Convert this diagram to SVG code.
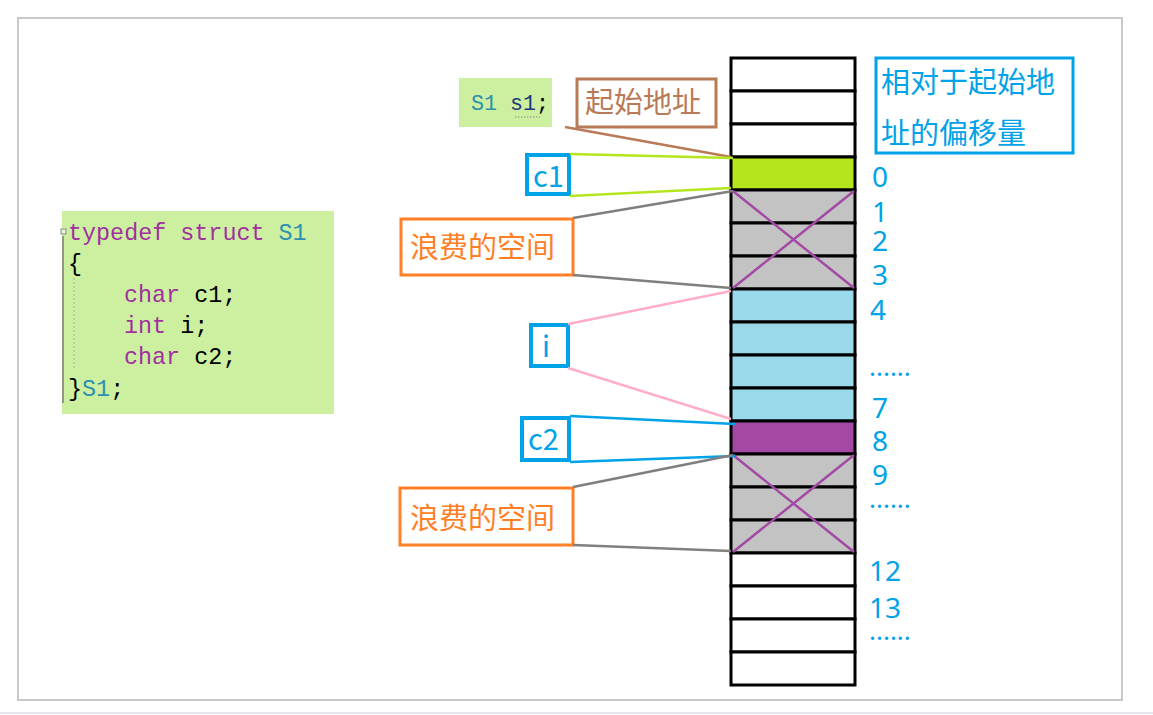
<svg xmlns="http://www.w3.org/2000/svg" width="1153" height="715" viewBox="0 0 1153 715">
<style>
.cell{stroke:#000;stroke-width:3}
.w{fill:#fff}.g{fill:#c3c3c3}.b{fill:#99d9ea}
.cjk{font-family:"Noto Sans CJK SC","Noto Sans",sans-serif;font-size:29px}
.num{font-family:"Noto Sans","Noto Sans CJK SC",sans-serif;font-size:28px;fill:#00a2e8}
.code{font-family:"Liberation Mono","DejaVu Sans Mono",monospace;font-size:23.4px}
.kw{fill:#a0309f}.ty{fill:#2b91af}.tx{fill:#000}
</style>
<rect x="0" y="0" width="1153" height="715" fill="#fff"/>
<rect x="18" y="18" width="1104" height="682" fill="none" stroke="#c8c8c8" stroke-width="2"/>
<line x1="0" y1="713" x2="1153" y2="713" stroke="#e4e8ec" stroke-width="2"/>

<g id="memory">
<rect class="cell w" x="731" y="58" width="124" height="33"/>
<rect class="cell w" x="731" y="91" width="124" height="33"/>
<rect class="cell w" x="731" y="124" width="124" height="33"/>
<rect class="cell" fill="#b5e61d" x="731" y="157" width="124" height="33"/>
<rect class="cell g" x="731" y="190" width="124" height="33"/>
<rect class="cell g" x="731" y="223" width="124" height="33"/>
<rect class="cell g" x="731" y="256" width="124" height="33"/>
<rect class="cell b" x="731" y="289" width="124" height="33"/>
<rect class="cell b" x="731" y="322" width="124" height="33"/>
<rect class="cell b" x="731" y="355" width="124" height="33"/>
<rect class="cell b" x="731" y="388" width="124" height="33"/>
<rect class="cell" fill="#a349a4" x="731" y="421" width="124" height="33"/>
<rect class="cell g" x="731" y="454" width="124" height="33"/>
<rect class="cell g" x="731" y="487" width="124" height="33"/>
<rect class="cell g" x="731" y="520" width="124" height="33"/>
<rect class="cell w" x="731" y="553" width="124" height="33"/>
<rect class="cell w" x="731" y="586" width="124" height="33"/>
<rect class="cell w" x="731" y="619" width="124" height="33"/>
<rect class="cell w" x="731" y="652" width="124" height="33"/>
<g stroke="#a349a4" stroke-width="2.5">
<line x1="733" y1="191" x2="854" y2="288"/>
<line x1="854" y1="191" x2="733" y2="288"/>
<line x1="733" y1="455" x2="854" y2="552"/>
<line x1="854" y1="455" x2="733" y2="552"/>
</g>
</g>

<g id="offsets">
<text class="num" x="872" y="187">0</text>
<text class="num" x="872" y="222">1</text>
<text class="num" x="872" y="251">2</text>
<text class="num" x="872" y="285">3</text>
<text class="num" x="870" y="320">4</text>
<text class="num" x="869" y="376" style="font-size:26px">......</text>
<text class="num" x="872" y="418">7</text>
<text class="num" x="872" y="451">8</text>
<text class="num" x="872" y="485">9</text>
<text class="num" x="869" y="508" style="font-size:26px">......</text>
<text class="num" x="869" y="581">12</text>
<text class="num" x="869" y="618">13</text>
<text class="num" x="869" y="640" style="font-size:26px">......</text>
</g>

<g id="offset-title">
<rect x="876" y="58" width="197" height="95" fill="#fff" stroke="#00a2e8" stroke-width="3"/>
<text class="cjk" x="881" y="93" fill="#00a2e8">相对于起始地</text>
<text class="cjk" x="881" y="144" fill="#00a2e8">址的偏移量</text>
</g>

<g id="code">
<rect x="62" y="211" width="272" height="203" fill="#ccf0a0"/>
<line x1="63" y1="236" x2="63" y2="403" stroke="#7a7a7a" stroke-width="1.5"/>
<rect x="61" y="229" width="5" height="5" fill="#e8f5d8" stroke="#888" stroke-width="1"/>
<line x1="74" y1="278" x2="74" y2="370" stroke="#b0b0b0" stroke-width="1" stroke-dasharray="2 2"/>
<text class="code" x="68" y="240"><tspan class="kw">typedef struct</tspan> <tspan class="ty">S1</tspan></text>
<text class="code tx" x="68" y="271">{</text>
<text class="code" x="124" y="302"><tspan class="kw">char</tspan><tspan class="tx"> c1;</tspan></text>
<text class="code" x="124" y="333"><tspan class="kw">int</tspan><tspan class="tx"> i;</tspan></text>
<text class="code" x="124" y="364"><tspan class="kw">char</tspan><tspan class="tx"> c2;</tspan></text>
<text class="code" x="68" y="396"><tspan class="tx">}</tspan><tspan class="ty">S1</tspan><tspan class="tx">;</tspan></text>
</g>

<g id="var-s1">
<rect x="459" y="78" width="93" height="49" fill="#ccf0a0"/>
<text x="471" y="110" style="font-family:'Liberation Mono','DejaVu Sans Mono',monospace;font-size:21.7px"><tspan fill="#2b91af">S1</tspan> <tspan fill="#1f377f">s1</tspan><tspan fill="#000">;</tspan></text>
<line x1="515" y1="117" x2="540" y2="117" stroke="#8a8a8a" stroke-width="1" stroke-dasharray="1.5 1.5"/>
</g>

<g id="start-addr">
<rect x="577" y="79" width="139" height="48" fill="#fff" stroke="#b97a57" stroke-width="3"/>
<text class="cjk" x="585" y="113" fill="#b97a57">起始地址</text>
</g>

<g id="c1">
<rect x="527" y="155" width="42" height="39" fill="#fff" stroke="#00a2e8" stroke-width="4"/>
<text class="cjk" x="533" y="187" fill="#00a2e8">c1</text>
</g>

<g id="waste1">
<rect x="401" y="219" width="172" height="56" fill="#fff" stroke="#ff7f27" stroke-width="3"/>
<text class="cjk" x="410" y="258" fill="#ff7f27">浪费的空间</text>
</g>

<g id="i">
<rect x="531" y="325" width="37" height="41" fill="#fff" stroke="#00a2e8" stroke-width="4"/>
<text class="cjk" x="542" y="357" fill="#00a2e8">i</text>
</g>

<g id="c2">
<rect x="522" y="418" width="47" height="42" fill="#fff" stroke="#00a2e8" stroke-width="4"/>
<text class="cjk" x="528" y="450" fill="#00a2e8">c2</text>
</g>

<g id="waste2">
<rect x="400" y="488" width="173" height="57" fill="#fff" stroke="#ff7f27" stroke-width="3"/>
<text class="cjk" x="410" y="529" fill="#ff7f27">浪费的空间</text>
</g>

<g id="connectors" stroke-width="2.5" fill="none">
<line x1="565" y1="127" x2="731" y2="157" stroke="#b97a57"/>
<line x1="570" y1="154" x2="733" y2="158" stroke="#b5e61d"/>
<line x1="570" y1="196" x2="731" y2="188" stroke="#b5e61d"/>
<line x1="573" y1="218" x2="733" y2="191" stroke="#7f7f7f"/>
<line x1="573" y1="275" x2="731" y2="288" stroke="#7f7f7f"/>
<line x1="568" y1="324" x2="731" y2="291" stroke="#ffaec9"/>
<line x1="568" y1="368" x2="731" y2="419" stroke="#ffaec9"/>
<line x1="570" y1="416" x2="735" y2="424" stroke="#00a2e8"/>
<line x1="570" y1="462" x2="735" y2="456" stroke="#00a2e8"/>
<line x1="573" y1="487" x2="733" y2="455" stroke="#7f7f7f"/>
<line x1="573" y1="545" x2="731" y2="551" stroke="#7f7f7f"/>
</g>
</svg>
